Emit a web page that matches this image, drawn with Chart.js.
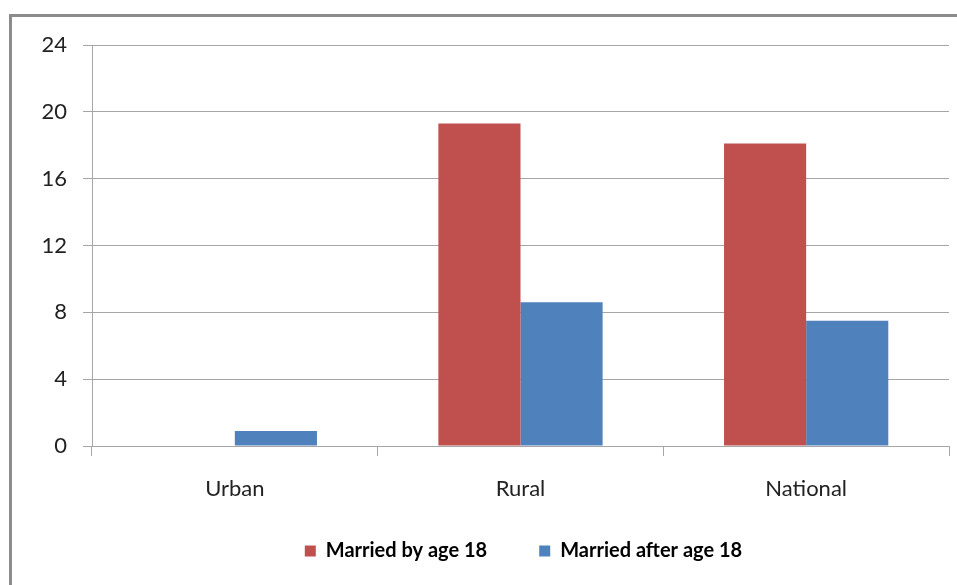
<!DOCTYPE html>
<html>
<head>
<meta charset="utf-8">
<script src="https://cdn.jsdelivr.net/npm/chart.js@4"></script>
<style>
    html, body { margin: 0; padding: 0; background: #fff; overflow: hidden; }
    #frame {
        position: absolute;
        left: 9px;
        top: 14px;
        width: 960px;
        height: 600px;
        border: 3px solid #8c8c8c;
        box-sizing: border-box;
    }
    #wrap { position: absolute; left: 0; top: 0; width: 957px; height: 585px; }
</style>
</head>
<body>
<div id="frame"></div>
<div id="wrap"><canvas id="chart" width="957" height="585"></canvas></div>
<script>
const categories = ['Urban', 'Rural', 'National'];
const marriedBy18 = [0, 19.3, 18.1];
const marriedAfter18 = [0.9, 8.6, 7.5];
const yTicks = [0, 4, 8, 12, 16, 20, 24];

const gridColor = '#a6a6a6';
const fontFamily = 'Lato, "Open Sans", sans-serif';
const legendFontSize = 20;
const legendPadding = 52;

// move the legend under the plot area, like the original
const legendPlacer = {
    id: 'legendPlacer',
    afterLayout(chart) {
        const lg = chart.legend;
        lg.left += 49;
        lg.right += 49;
        lg.top = 551 - legendPadding - legendFontSize / 2;
    }
};

new Chart(document.getElementById('chart'), {
    type: 'bar',
    data: {
        labels: categories,
        datasets: [
            {
                label: 'Married by age 18',
                data: marriedBy18,
                backgroundColor: '#c0504d',
                categoryPercentage: 0.575,
                barPercentage: 1.0
            },
            {
                label: 'Married after age 18',
                data: marriedAfter18,
                backgroundColor: '#4f81bd',
                categoryPercentage: 0.575,
                barPercentage: 1.0
            }
        ]
    },
    plugins: [legendPlacer],
    options: {
        responsive: false,
        animation: false,
        layout: {
            padding: { left: 0, right: 8, top: 45, bottom: 12 }
        },
        plugins: {
            tooltip: { enabled: false },
            legend: {
                position: 'bottom',
                maxHeight: 40,
                labels: {
                    boxWidth: 11,
                    boxHeight: 11,
                    padding: legendPadding,
                    color: '#000',
                    font: { family: fontFamily, size: legendFontSize, weight: 'bold' }
                }
            }
        },
        scales: {
            x: {
                offset: true,
                afterFit: (scale) => { scale.height = 87; },
                grid: {
                    offset: true,
                    drawOnChartArea: false,
                    drawTicks: true,
                    tickLength: 10,
                    color: gridColor
                },
                border: { color: gridColor, width: 1 },
                ticks: {
                    color: '#222',
                    padding: 20,
                    font: { family: fontFamily, size: 22 }
                }
            },
            y: {
                min: 0,
                max: 24,
                afterFit: (scale) => { scale.width = 92; },
                afterBuildTicks: (scale) => {
                    scale.ticks = yTicks.map(v => ({ value: v }));
                },
                grid: {
                    color: gridColor,
                    tickLength: 9
                },
                border: { color: gridColor, width: 1 },
                ticks: {
                    color: '#222',
                    padding: 16,
                    font: { family: fontFamily, size: 22 }
                }
            }
        }
    }
});
</script>
</body>
</html>
